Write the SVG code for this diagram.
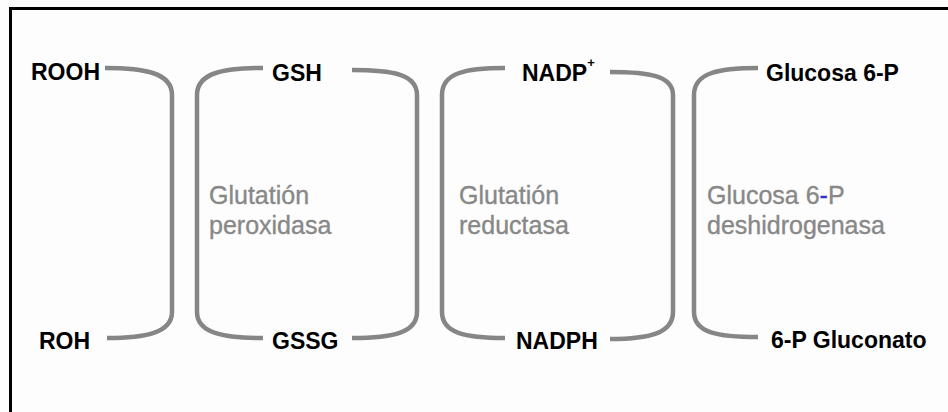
<svg xmlns="http://www.w3.org/2000/svg" width="948" height="412" viewBox="0 0 948 412">
<style>
.lbl{font-family:"Liberation Sans",Arial,sans-serif;font-weight:bold;font-size:23px;fill:#000}
.enz{font-family:"Liberation Sans",Arial,sans-serif;font-size:25px;fill:#888;stroke:#888;stroke-width:0.35}
.br{fill:none;stroke:#868686;stroke-width:4.5;stroke-linecap:butt}
.frame{stroke:#000;stroke-width:3;fill:none}
</style>
<rect x="0" y="0" width="948" height="412" fill="#fdfdfd"/>
<g id="frame">
<line class="frame" x1="9" y1="8.5" x2="948" y2="8.5"/>
<line class="frame" x1="10.5" y1="7" x2="10.5" y2="412"/>
</g>
<g id="connectors">
<path class="br" d="M105,68 C145,68 172,73 172,95 L172,312 C172,333 145,338 107,338"/>
<path class="br" d="M263,68 C223,68 197,73 197,95 L197,312 C197,333 223,338 263,338"/>
<path class="br" d="M352,70 C392,70 417,74 417,95 L417,312 C417,333 392,338 352,338"/>
<path class="br" d="M505,68 C465,68 442,73 442,95 L442,312 C442,333 465,338 505,338"/>
<path class="br" d="M610,72 C650,72 673,76 673,95 L673,312 C673,333 650,339 610,339"/>
<path class="br" d="M758,68 C718,68 694,73 694,95 L694,312 C694,333 718,337 758,337"/>
</g>
<g id="rooh"><text class="lbl" x="31" y="80">ROOH</text></g>
<g id="roh"><text class="lbl" x="39" y="349">ROH</text></g>
<g id="gsh"><text class="lbl" x="272" y="81">GSH</text></g>
<g id="gssg"><text class="lbl" x="272" y="349">GSSG</text></g>
<g id="nadp"><text class="lbl" x="522" y="81">NADP<tspan font-size="13" dy="-14">+</tspan></text></g>
<g id="nadph"><text class="lbl" x="516" y="349">NADPH</text></g>
<g id="g6p"><text class="lbl" x="766" y="81">Glucosa 6-P</text></g>
<g id="gluconato"><text class="lbl" x="771" y="348">6-P Gluconato</text></g>
<g id="gpx"><text class="enz" x="209" y="204">Glutatión</text><text class="enz" x="209" y="234">peroxidasa</text></g>
<g id="gr"><text class="enz" x="459" y="204">Glutatión</text><text class="enz" x="459" y="234">reductasa</text></g>
<g id="g6pd"><text class="enz" x="707" y="204">Glucosa 6<tspan fill="#3333cc" stroke="#3333cc">-</tspan>P</text><text class="enz" x="707" y="234">deshidrogenasa</text></g>
</svg>
